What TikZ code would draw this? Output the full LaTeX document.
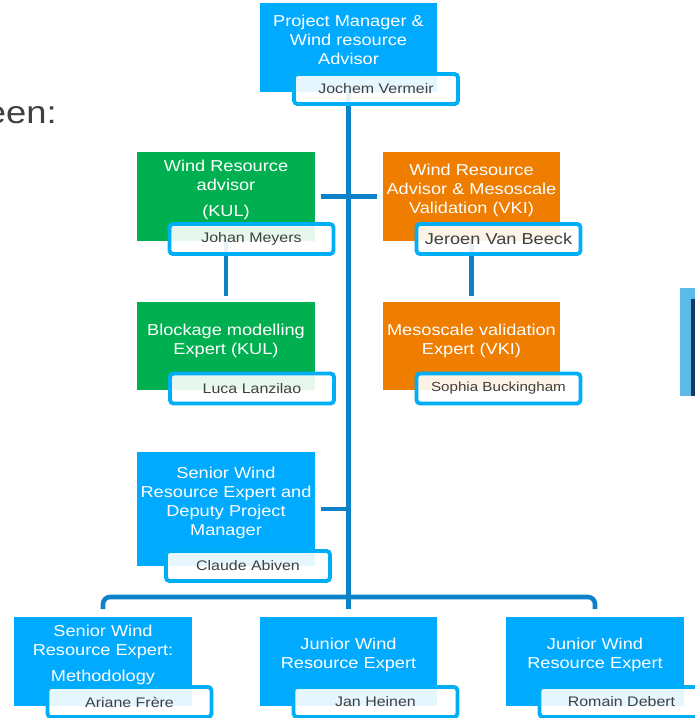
\documentclass[tikz,border=0pt]{standalone}
\usepackage{fontspec}
\setmainfont{Liberation Sans}[FakeStretch=1.15]
\definecolor{roleblue}{RGB}{0,170,255}
\definecolor{rolegreen}{RGB}{0,176,80}
\definecolor{roleorange}{RGB}{238,125,0}
\definecolor{nameblue}{RGB}{0,174,245}
\definecolor{linkblue}{RGB}{14,130,200}
\definecolor{namegray}{RGB}{64,64,64}
\definecolor{tabblue}{RGB}{91,186,230}
\definecolor{tabnavy}{RGB}{24,56,100}
\tikzstyle{rolebox} = [rectangle, inner sep=0pt, minimum width=3.56cm, minimum height=1.78cm]
\tikzstyle{roletext} = [text=white, align=center, inner sep=0pt, font=\fontsize{9}{10.8}\selectfont]
\tikzstyle{namebox} = [rectangle, draw=nameblue, line width=2.2pt, rounded corners=2pt, fill=white, fill opacity=0.9, text opacity=1, text=namegray, inner sep=0pt, minimum width=3.28cm, minimum height=0.6cm, font=\fontsize{7.9}{9}\selectfont]
\tikzstyle{link} = [line width=2.6pt, color=linkblue]

\begin{document}
\begin{tikzpicture}[x=0.02cm, y=-0.02cm]
    \useasboundingbox (0,0) rectangle (695,718);
    \clip (0,0) rectangle (695,718);

    % Left heading and right tab
    \node[anchor=base east, inner sep=0pt, text=namegray, font=\fontsize{18}{20}\selectfont] (een) at (57,123) {een:};
    \fill[tabblue] (680,288) rectangle (700,396);
    \fill[tabnavy] (691,299) rectangle (700,396);

    % Project manager
    \node[rolebox, fill=roleblue] (pm) at (348.5,47.5) {};
    \node[roletext] (pmtext) at (348.5,40) {Project Manager \&\\Wind resource\\Advisor};

    % KUL
    \node[rolebox, fill=rolegreen] (advkul) at (226,196.5) {};
    \node[roletext] (advkultext) at (226,190) {Wind Resource\\advisor\\[4pt](KUL)};
    \node[rolebox, fill=rolegreen] (blockage) at (226,346) {};
    \node[roletext] (blockagetext) at (226,340.5) {Blockage modelling\\Expert (KUL)};

    % VKI
    \node[rolebox, fill=roleorange] (advvki) at (471.5,196.5) {};
    \node[roletext] (advvkitext) at (471.5,190) {Wind Resource\\Advisor \& Mesoscale\\Validation (VKI)};
    \node[rolebox, fill=roleorange] (meso) at (471.5,346) {};
    \node[roletext] (mesotext) at (471.5,340.5) {Mesoscale validation\\Expert (VKI)};

    % Deputy
    \node[rolebox, fill=roleblue, minimum height=2.28cm] (deputy) at (226,509) {};
    \node[roletext] (deputytext) at (226,503) {Senior Wind\\Resource Expert and\\Deputy Project\\Manager};

    % Bottom row
    \node[rolebox, fill=roleblue] (senior) at (103,661) {};
    \node[roletext] (seniortext) at (103,654.5) {Senior Wind\\Resource Expert:\\[4pt]Methodology};
    \node[rolebox, fill=roleblue] (juniora) at (348.5,661) {};
    \node[roletext] (junioratext) at (348.5,654.5) {Junior Wind\\Resource Expert};
    \node[rolebox, fill=roleblue] (juniorb) at (595,661) {};
    \node[roletext] (juniorbtext) at (595,654.5) {Junior Wind\\Resource Expert};

    % Links
    \coordinate (busmid) at (348.5,597);
    \draw[link, shorten >=4pt] (pm.south) -- (juniora.north);
    \draw[link, rounded corners=4pt, shorten <=4pt, shorten >=4pt] (senior.north) |- (busmid) -| (juniorb.north);
    \draw[link, shorten <=3pt] (advkul.east) -- (advkul.east -| pm.south);
    \draw[link, shorten >=3pt] (advvki.west -| pm.south) -- (advvki.west);
    \draw[link, shorten <=3pt] (deputy.east) -- (deputy.east -| pm.south);
    \draw[link, shorten >=3pt] (advkul.south) -- (blockage.north);
    \draw[link, shorten >=3pt] (advvki.south) -- (meso.north);

    % Names
    \node[namebox] (jochem) at (376,89) {Jochem Vermeir};
    \node[namebox] (johan) at (251.5,239) {Johan Meyers};
    \node[namebox, font=\fontsize{9}{10.8}\selectfont] (jeroen) at (498.5,239) {Jeroen Van Beeck};
    \node[namebox] (luca) at (252,388.5) {Luca Lanzilao};
    \node[namebox, font=\fontsize{7.5}{9}\selectfont] (sophia) at (498.5,388.5) {Sophia Buckingham};
    \node[namebox] (claude) at (248,566) {Claude Abiven};
    \node[namebox] (ariane) at (129.5,702) {Ariane Frère};
    \node[namebox] (jan) at (375.5,702) {Jan Heinen};
    \node[namebox] (romain) at (621.5,702) {Romain Debert};
\end{tikzpicture}
\end{document}
